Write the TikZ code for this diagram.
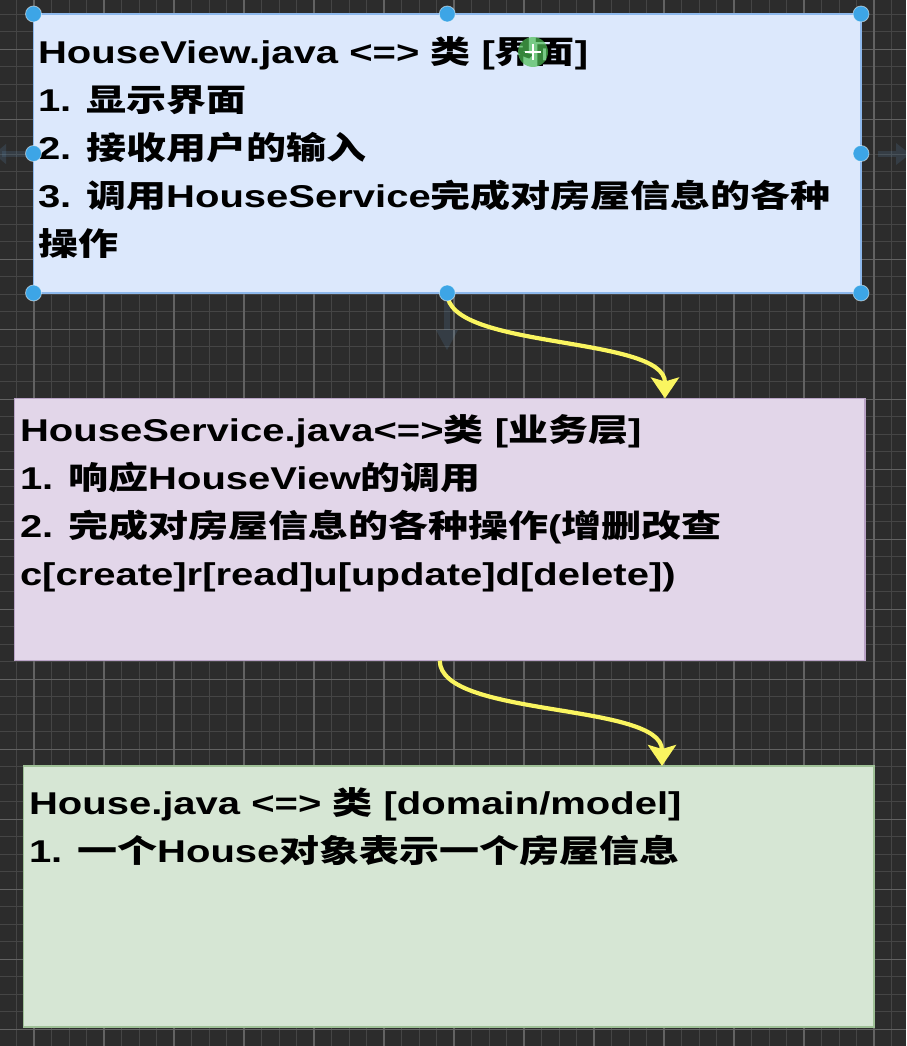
\documentclass[tikz,border=0pt]{standalone}
\usepackage{fontspec}
\setmainfont{Liberation Sans}
\newfontfamily\cjkf{Noto Sans CJK SC}
\usetikzlibrary{arrows.meta}
\newcommand\zh[1]{{\cjkf\bfseries #1}}
\newcommand\boxtext[1]{\scalebox{1.27}[1]{\fontsize{31.5}{48}\selectfont\bfseries\begin{tabular}[t]{@{}l@{}}#1\end{tabular}}}
\definecolor{bgc}{HTML}{2C2C2C}
\definecolor{gridminor}{HTML}{454545}
\definecolor{gridmajor}{HTML}{626262}
\definecolor{viewfill}{HTML}{DCE8FC}
\definecolor{viewline}{HTML}{8DB8EC}
\definecolor{servfill}{HTML}{E2D6E9}
\definecolor{servline}{HTML}{B9A3C6}
\definecolor{housefill}{HTML}{D6E6D4}
\definecolor{houseline}{HTML}{9EC096}
\definecolor{handlec}{HTML}{3DA5E6}
\definecolor{arrowc}{HTML}{FAF560}
\definecolor{ghostc}{HTML}{5E8FB8}
\definecolor{greenc}{HTML}{4DBE55}
\tikzset{
  boxshape/.style={rectangle, inner sep=0pt, outer sep=0pt, line width=1.2pt},
  txt/.style={anchor=base west, inner sep=0pt, outer sep=0pt, text=black},
  yarrow/.style={draw=arrowc, line width=4.2pt,
    -{Stealth[length=21pt, width=28pt, inset=4pt]}},
  handle/.style={fill=handlec, draw=white, draw opacity=0.5, line width=0.8pt},
  ghost/.style={fill=ghostc, opacity=0.18}
}
\begin{document}
\begin{tikzpicture}[x=1pt, y=-1pt]
\useasboundingbox (0,0) rectangle (906,1046);
\fill[bgc] (0,0) rectangle (906,1046);
\begin{scope}
  \clip (0,0) rectangle (906,1046);
  \foreach \i in {-2,...,52} {
    \draw[gridminor, line width=1pt] ({34+17.5*\i},0) -- ({34+17.5*\i},1046);
  }
  \foreach \i in {-20,...,42} {
    \draw[gridminor, line width=1pt] (0,{329.3+17.5*\i}) -- (906,{329.3+17.5*\i});
  }
  \foreach \i in {0,...,12} {
    \draw[gridmajor, line width=1.3pt] ({34+70*\i},0) -- ({34+70*\i},1046);
  }
  \foreach \i in {-5,...,11} {
    \draw[gridmajor, line width=1.3pt] (0,{329.3+70*\i}) -- (906,{329.3+70*\i});
  }
  % faint hover arrows
  \fill[ghost] (2,151) -- (28,151) -- (28,157) -- (2,157) -- cycle;
  \fill[ghost] (-6,154) -- (6,144) -- (6,164) -- cycle;
  \fill[ghost] (878,151) -- (896,151) -- (896,157) -- (878,157) -- cycle;
  \fill[ghost] (910,154) -- (896,143) -- (896,165) -- cycle;
  \fill[ghost] (444,300) -- (450,300) -- (450,330) -- (444,330) -- cycle;
  \fill[ghost] (447,350) -- (436,330) -- (458,330) -- cycle;
\end{scope}

% boxes
\node[boxshape, fill=viewfill, draw=viewline, minimum width=827.5pt, minimum height=279pt] (view) at (447.25,153.5) {};
\node[boxshape, fill=servfill, draw=servline, minimum width=850.5pt, minimum height=262pt] (service) at (439.75,529.6) {};
\node[boxshape, fill=housefill, draw=houseline, minimum width=850.5pt, minimum height=261pt] (house) at (448.75,896.5) {};

% connectors
\coordinate (t1) at (665,398.5);
\coordinate (t2) at (662,766);
\draw[yarrow] (view.south) .. controls (447,350) and (665,335) .. (t1);
\draw[yarrow] (service.south) .. controls (440,718) and (662,702) .. (t2);

% texts
\node[txt] (viewtxt) at (38,64) {\boxtext{HouseView.java <=> \zh{类} [\zh{界面}]\\
1. \zh{显示界面}\\
2. \zh{接收用户的输入}\\
3. \zh{调用}HouseService\zh{完成对房屋信息的各种}\\
\zh{操作}}};
\node[txt] (servtxt) at (20,441) {\boxtext{HouseService.java<=>\zh{类} [\zh{业务层}]\\
1. \zh{响应}HouseView\zh{的调用}\\
2. \zh{完成对房屋信息的各种操作}(\zh{增删改查}\\
c[create]r[read]u[update]d[delete])}};
\node[txt] (housetxt) at (29,814) {\boxtext{House.java <=> \zh{类} [domain/model]\\
1. \zh{一个}House\zh{对象表示一个房屋信息}}};

% move marker over the text
\fill[greenc, opacity=0.7] (533,52) circle (15);
\draw[white, line width=1.2pt] (525,52) -- (541,52) (533,44) -- (533,60);

% selection handles
\foreach \p in {(33.5,14),(447.25,14),(861,14),(33.5,153.5),(861,153.5),(33.5,293),(447.25,293),(861,293)} {
  \filldraw[handle] \p circle (8);
}
\end{tikzpicture}
\end{document}
